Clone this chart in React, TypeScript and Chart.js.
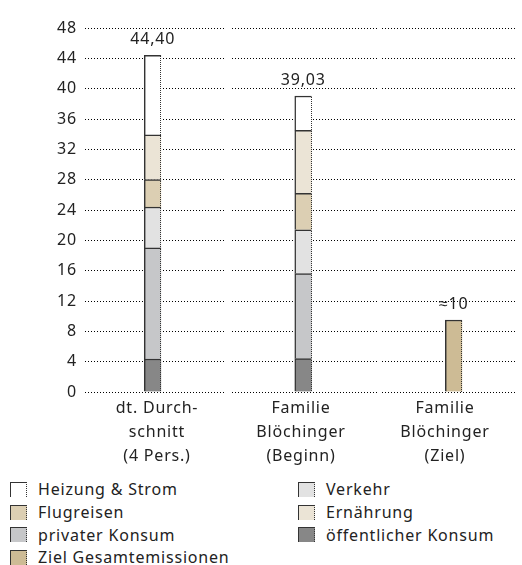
import React, { useEffect, useRef } from "react";
import { Chart, registerables } from "chart.js";

Chart.register(...registerables);

// ---- data ----
const categories: string[][] = [
  ["dt. Durch-", "schnitt", "(4 Pers.)"],
  ["Familie", "Blöchinger", "(Beginn)"],
  ["Familie", "Blöchinger", "(Ziel)"],
];
const oeffentlicherKonsum = [4.35, 4.4, null];
const privaterKonsum = [14.65, 11.2, null];
const verkehr = [5.4, 5.8, null];
const flugreisen = [3.6, 4.8, null];
const ernaehrung = [5.9, 8.3, null];
const heizungStrom = [10.5, 4.53, null];
const zielGesamtemissionen = [null, null, 9.5];
const totalLabels = ["44,40", "39,03", "≈10"];
const yTickValues = [0, 4, 8, 12, 16, 20, 24, 28, 32, 36, 40, 44, 48];

const seriesNames = [
  "öffentlicher Konsum",
  "privater Konsum",
  "Verkehr",
  "Flugreisen",
  "Ernährung",
  "Heizung & Strom",
  "Ziel Gesamtemissionen",
];
const seriesValues = [
  oeffentlicherKonsum,
  privaterKonsum,
  verkehr,
  flugreisen,
  ernaehrung,
  heizungStrom,
  zielGesamtemissionen,
];
const seriesColors = [
  "#878787",
  "#c6c7c9",
  "#e2e2e2",
  "#dccfb3",
  "#ebe4d6",
  "#ffffff",
  "#cdbb95",
];
// legend order (row-major, 2 columns)
const legendOrder = [
  "Heizung & Strom",
  "Verkehr",
  "Flugreisen",
  "Ernährung",
  "privater Konsum",
  "öffentlicher Konsum",
  "Ziel Gesamtemissionen",
];

const FONT = "'Noto Sans', sans-serif";
const TEXT = "#222";
const EDGE = "#333";
const SPACING = "0.8px";

const gridPlugin = {
  id: "segGrid",
  beforeDraw(chart: any) {
    (chart.ctx as any).letterSpacing = SPACING;
  },
  beforeDatasetsDraw(chart: any) {
    // small gaps in the grid lines between the category groups
    const ctx = chart.ctx;
    const area = chart.chartArea;
    const xb = chart.scales.xBar;
    ctx.save();
    ctx.fillStyle = "#ffffff";
    [0.5, 1.5].forEach((v) => {
      const px = Math.round(xb.getPixelForValue(v));
      ctx.fillRect(px - 2, area.top - 2, 4, area.bottom - area.top + 4);
    });
    ctx.restore();
  },
  afterDatasetsDraw(chart: any) {
    const ctx = chart.ctx;
    const xb = chart.scales.xBar;
    const y = chart.scales.y;
    ctx.save();
    // dotted right edges of the bars
    ctx.fillStyle = EDGE;
    chart.data.datasets.forEach((_: any, di: number) => {
      const meta = chart.getDatasetMeta(di);
      meta.data.forEach((el: any) => {
        const p = el.getProps(["x", "y", "base", "width"], true);
        const rx = Math.round(p.x + p.width / 2) - 1;
        const top = Math.round(Math.min(p.y, p.base));
        const bot = Math.round(Math.max(p.y, p.base));
        for (let yy = top + 1; yy < bot; yy += 2) {
          ctx.fillRect(rx, yy, 1, 1);
        }
      });
    });
    // total labels
    ctx.fillStyle = TEXT;
    ctx.font = `16px ${FONT}`;
    ctx.textAlign = "center";
    ctx.textBaseline = "middle";
    categories.forEach((_, i) => {
      let total = 0;
      seriesValues.forEach((arr) => {
        const v = arr[i];
        if (v != null) total += v;
      });
      const px = xb.getPixelForValue(i);
      const py = y.getPixelForValue(total);
      ctx.fillText(totalLabels[i], px, py - 16);
    });
    ctx.restore();
  },
};

export default function App() {
  const ref = useRef<HTMLCanvasElement | null>(null);

  useEffect(() => {
    if (!ref.current) return;
    const datasets = seriesNames.map((name, si) => ({
      label: name,
      xAxisID: "xBar",
      data: seriesValues[si]
        .map((v, i) => (v == null ? null : { x: i, y: v }))
        .filter((d) => d != null),
      backgroundColor: seriesColors[si],
      borderColor: EDGE,
      borderWidth: { top: 1.5, left: 1.5, right: 0, bottom: 0 },
      borderSkipped: false,
      barThickness: 17,
      grouped: false,
    }));
    const chart = new Chart(ref.current, {
      type: "bar",
      data: { labels: categories as any, datasets: datasets as any },
      plugins: [gridPlugin],
      options: {
        animation: false,
        responsive: false,
        maintainAspectRatio: false,
        layout: { padding: { top: 28, right: 5, left: 0, bottom: 0 } },
        plugins: { legend: { display: false }, tooltip: { enabled: false } },
        scales: {
          x: {
            type: "category",
            offset: true,
            grid: { display: false, drawTicks: false },
            border: { display: false },
            afterFit: (scale: any) => {
              scale.height = 80;
            },
            ticks: {
              autoSkip: false,
              maxRotation: 0,
              padding: 4,
              color: TEXT,
              font: { family: FONT, size: 16, lineHeight: 1.5 },
            },
          },
          xBar: {
            type: "linear",
            display: false,
            stacked: true,
            offset: false,
            min: -0.45,
            max: 2.42,
          },
          y: {
            stacked: true,
            min: 0,
            max: 48,
            grid: { display: true, drawTicks: false, color: "#000", lineWidth: 1 },
            border: { display: false, dash: [1, 2] },
            afterBuildTicks: (scale: any) => {
              scale.ticks = yTickValues.map((v) => ({ value: v }));
            },
            afterFit: (scale: any) => {
              scale.width = 85;
            },
            ticks: {
              padding: 8,
              color: TEXT,
              font: { family: FONT, size: 16 },
            },
          },
        },
      },
    });
    return () => chart.destroy();
  }, []);

  const colorOf = (name: string) => seriesColors[seriesNames.indexOf(name)];

  return (
    <div style={{ position: "absolute", left: 0, top: 0, width: 522, height: 565, background: "#fff" }}>
      <canvas ref={ref} width={522} height={472} style={{ display: "block", width: 522, height: 472 }} />
      <div
        style={{
          position: "absolute",
          left: 10,
          top: 478,
          display: "grid",
          gridTemplateColumns: "288px auto",
          gridAutoRows: "22.7px",
          fontFamily: FONT,
          fontSize: 16,
          letterSpacing: SPACING,
          color: TEXT,
        }}
      >
        {legendOrder.map((name) => (
          <div key={name} style={{ display: "flex", alignItems: "center", whiteSpace: "nowrap" }}>
            <span
              style={{
                display: "inline-block",
                boxSizing: "border-box",
                width: 17,
                height: 15,
                background: colorOf(name),
                borderLeft: `1.5px solid ${EDGE}`,
                borderTop: `1px solid ${EDGE}`,
                borderRight: `1px dotted ${EDGE}`,
                marginRight: 11,
                flex: "none",
              }}
            />
            <span>{name}</span>
          </div>
        ))}
      </div>
    </div>
  );
}
